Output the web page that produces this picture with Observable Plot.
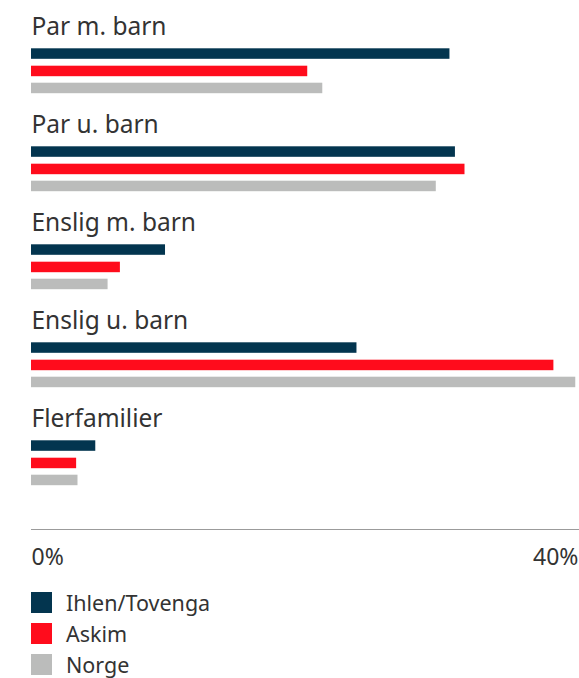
<!DOCTYPE html>
<html>
<head>
<meta charset="utf-8">
<script src="https://cdn.jsdelivr.net/npm/d3@7"></script>
<script src="https://cdn.jsdelivr.net/npm/@observablehq/plot@0.6"></script>
<style>
  html, body { margin: 0; padding: 0; background: #fff; }
  body { width: 579px; font-family: "Noto Sans", Lato, sans-serif; color: #333; }
  .legend { margin-left: 31px; margin-top: 0px; }
  .legend .row { display: flex; align-items: center; height: 31px; font-size: 21.5px; line-height: 31px; }
  .legend .sw { width: 21px; height: 21px; margin-right: 14px; flex: none; }
</style>
</head>
<body>
<div id="chart"></div>
<div class="legend" id="legend"></div>
<script>
const categories = ["Par m. barn", "Par u. barn", "Enslig m. barn", "Enslig u. barn", "Flerfamilier"];
const series = ["Ihlen/Tovenga", "Askim", "Norge"];
const ihlen = [30.6, 31.0, 9.8, 23.8, 4.7];
const askim = [20.2, 31.7, 6.5, 38.2, 3.3];
const norge = [21.3, 29.6, 5.6, 39.8, 3.4];
const colors = ["#03354f", "#ff0c1c", "#bbbcbb"];
const xTicks = [0, 40];

const seriesValues = [ihlen, askim, norge];
const rows = categories.flatMap((c, i) =>
  series.map((s, j) => ({category: c, series: s, value: seriesValues[j][i]}))
);

// vertical placement of each series bar inside its category band (top, bottom insets)
const insets = [[47.3, 40.2], [64.7, 22.8], [81.7, 5.8]];

const font = "'Noto Sans', Lato, sans-serif";

const chart = Plot.plot({
  width: 579,
  height: 587,
  marginLeft: 31,
  marginRight: 1,
  marginTop: 0,
  marginBottom: 58,
  style: {fontFamily: font, fontSize: "22px", color: "#333", background: "#fff"},
  x: {domain: [0, 40], label: null},
  y: {domain: categories, range: [1, 491], padding: 0, axis: null},
  color: {domain: series, range: colors},
  marks: [
    ...series.map((s, j) =>
      Plot.barX(rows.filter(d => d.series === s), {
        x: "value",
        y: "category",
        fill: "series",
        insetTop: insets[j][0],
        insetBottom: insets[j][1]
      })
    ),
    Plot.text(categories, {
      y: d => d,
      text: d => d,
      frameAnchor: "left",
      textAnchor: "start",
      lineAnchor: "middle",
      dy: -23.5,
      fontSize: 24.5,
      fill: "#333"
    }),
    Plot.frame({anchor: "bottom", stroke: "#9b9b9b", strokeWidth: 1}),
    Plot.axisX([xTicks[0]], {
      tickSize: 0, tickPadding: 19, textAnchor: "start",
      tickFormat: d => d + "%", fontSize: 23, label: null, fill: "#333"
    }),
    Plot.axisX([xTicks[1]], {
      tickSize: 0, tickPadding: 19, textAnchor: "end",
      tickFormat: d => d + "%", fontSize: 23, label: null, fill: "#333"
    })
  ]
});
document.getElementById("chart").appendChild(chart);

const legend = document.getElementById("legend");
series.forEach((s, j) => {
  const row = document.createElement("div");
  row.className = "row";
  const sw = document.createElement("span");
  sw.className = "sw";
  sw.style.background = colors[j];
  const label = document.createElement("span");
  label.textContent = s;
  row.appendChild(sw);
  row.appendChild(label);
  legend.appendChild(row);
});
</script>
</body>
</html>
